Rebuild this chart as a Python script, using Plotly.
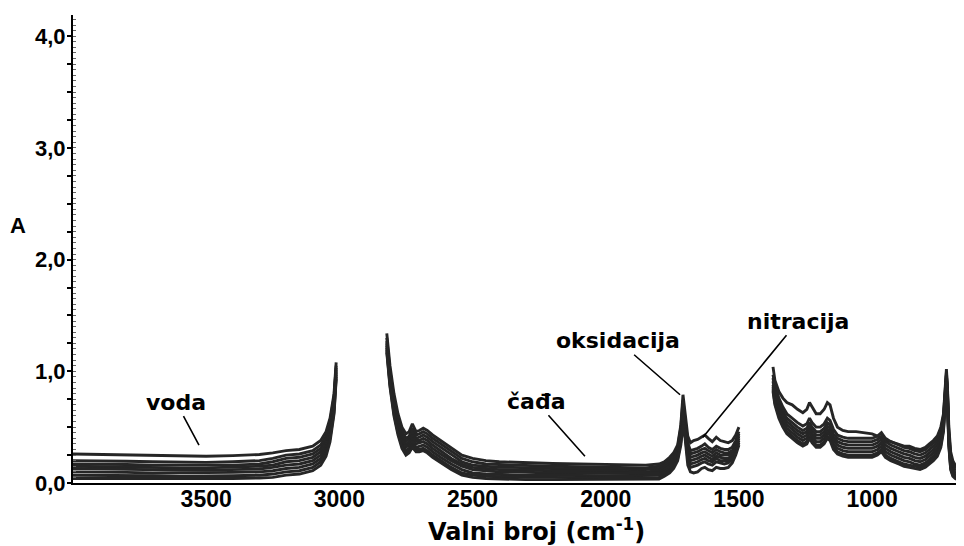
import plotly.graph_objects as go

# ---------------- data ----------------
wn_seg1 = [4000, 3900, 3800, 3700, 3600, 3500, 3400, 3300, 3250, 3200, 3150, 3100, 3070, 3050, 3035, 3020, 3012]
wn_seg2 = [2822, 2810, 2795, 2780, 2765, 2750, 2738, 2726, 2712, 2700,
           2685, 2670, 2650, 2620, 2580, 2540, 2500, 2450, 2400, 2350,
           2300, 2200, 2100, 2000, 1900, 1850, 1800, 1780, 1760, 1745,
           1730, 1718, 1710, 1702, 1692, 1682, 1670, 1655, 1640, 1628,
           1615, 1600, 1585, 1570, 1555, 1540, 1525, 1512, 1500]
wn_seg3 = [1372, 1365, 1350, 1335, 1320, 1300, 1280, 1260, 1245, 1235,
           1225, 1210, 1195, 1180, 1168, 1158, 1145, 1130, 1110, 1090,
           1060, 1030, 1000, 980, 965, 950, 930, 900, 880, 860,
           840, 820, 800, 785, 770, 755, 742, 732, 725, 721,
           717, 712, 705, 697, 688, 678, 668, 660, 650]

s1_seg1 = [0.26, 0.255, 0.25, 0.245, 0.24, 0.24, 0.245, 0.255, 0.27, 0.29, 0.30, 0.33, 0.38, 0.46, 0.58, 0.80, 1.08]
s2_seg1 = [0.20, 0.20, 0.195, 0.19, 0.185, 0.185, 0.19, 0.20, 0.22, 0.25, 0.26, 0.29, 0.34, 0.42, 0.55, 0.77, 1.05]
s3_seg1 = [0.17, 0.17, 0.165, 0.16, 0.16, 0.155, 0.16, 0.17, 0.19, 0.22, 0.23, 0.26, 0.31, 0.39, 0.52, 0.75, 1.03]
s4_seg1 = [0.15, 0.145, 0.14, 0.14, 0.135, 0.135, 0.14, 0.15, 0.16, 0.19, 0.20, 0.23, 0.28, 0.36, 0.49, 0.72, 1.01]
s5_seg1 = [0.13, 0.125, 0.12, 0.12, 0.115, 0.115, 0.12, 0.125, 0.14, 0.16, 0.17, 0.20, 0.25, 0.33, 0.46, 0.70, 0.99]
s6_seg1 = [0.10, 0.10, 0.095, 0.09, 0.09, 0.09, 0.095, 0.10, 0.11, 0.13, 0.14, 0.17, 0.22, 0.30, 0.43, 0.67, 0.97]
s7_seg1 = [0.07, 0.07, 0.065, 0.065, 0.06, 0.06, 0.065, 0.07, 0.08, 0.10, 0.11, 0.14, 0.19, 0.27, 0.40, 0.64, 0.95]
s8_seg1 = [0.04, 0.04, 0.04, 0.035, 0.035, 0.035, 0.04, 0.045, 0.05, 0.07, 0.08, 0.11, 0.16, 0.24, 0.37, 0.62, 0.93]

s1_seg2 = [1.34, 1.05, 0.80, 0.62, 0.50, 0.44, 0.46, 0.53, 0.46, 0.47, 0.49, 0.47, 0.43, 0.38, 0.31, 0.25, 0.22, 0.20, 0.19, 0.185,
           0.18, 0.175, 0.17, 0.165, 0.16, 0.16, 0.17, 0.19, 0.23, 0.27, 0.34, 0.52, 0.79, 0.62, 0.42, 0.36, 0.38, 0.39, 0.41, 0.43,
           0.40, 0.37, 0.41, 0.38, 0.37, 0.36, 0.38, 0.43, 0.50]
s2_seg2 = [1.30, 1.00, 0.76, 0.58, 0.46, 0.40, 0.42, 0.49, 0.43, 0.44, 0.46, 0.44, 0.40, 0.35, 0.28, 0.22, 0.19, 0.17, 0.165, 0.16,
           0.155, 0.15, 0.145, 0.14, 0.135, 0.135, 0.15, 0.17, 0.21, 0.25, 0.32, 0.50, 0.74, 0.58, 0.36, 0.29, 0.30, 0.31, 0.33, 0.35,
           0.32, 0.30, 0.33, 0.31, 0.30, 0.30, 0.32, 0.38, 0.46]
s3_seg2 = [1.27, 0.97, 0.73, 0.55, 0.43, 0.37, 0.40, 0.46, 0.40, 0.41, 0.43, 0.41, 0.37, 0.32, 0.25, 0.19, 0.16, 0.15, 0.14, 0.14,
           0.135, 0.13, 0.125, 0.12, 0.12, 0.12, 0.13, 0.16, 0.19, 0.23, 0.30, 0.47, 0.70, 0.55, 0.33, 0.26, 0.27, 0.28, 0.30, 0.31,
           0.29, 0.27, 0.30, 0.28, 0.27, 0.27, 0.29, 0.35, 0.44]
s4_seg2 = [1.25, 0.95, 0.70, 0.52, 0.40, 0.34, 0.37, 0.43, 0.38, 0.38, 0.40, 0.38, 0.34, 0.29, 0.22, 0.17, 0.14, 0.13, 0.12, 0.12,
           0.115, 0.11, 0.11, 0.105, 0.10, 0.10, 0.11, 0.14, 0.17, 0.21, 0.28, 0.44, 0.66, 0.52, 0.30, 0.23, 0.24, 0.25, 0.27, 0.28,
           0.26, 0.24, 0.27, 0.25, 0.25, 0.25, 0.27, 0.33, 0.42]
s5_seg2 = [1.23, 0.93, 0.68, 0.50, 0.38, 0.32, 0.34, 0.40, 0.35, 0.36, 0.37, 0.35, 0.31, 0.26, 0.20, 0.15, 0.12, 0.11, 0.10, 0.10,
           0.095, 0.09, 0.09, 0.085, 0.085, 0.085, 0.09, 0.12, 0.15, 0.19, 0.26, 0.42, 0.62, 0.49, 0.27, 0.20, 0.21, 0.22, 0.24, 0.25,
           0.23, 0.21, 0.24, 0.23, 0.22, 0.22, 0.25, 0.31, 0.40]
s6_seg2 = [1.21, 0.90, 0.65, 0.47, 0.35, 0.29, 0.31, 0.37, 0.32, 0.33, 0.34, 0.32, 0.28, 0.23, 0.17, 0.12, 0.09, 0.08, 0.075, 0.07,
           0.07, 0.07, 0.065, 0.065, 0.065, 0.065, 0.07, 0.10, 0.13, 0.17, 0.24, 0.40, 0.58, 0.46, 0.24, 0.17, 0.18, 0.19, 0.21, 0.22,
           0.20, 0.19, 0.22, 0.20, 0.20, 0.20, 0.23, 0.29, 0.38]
s7_seg2 = [1.19, 0.88, 0.62, 0.45, 0.33, 0.27, 0.29, 0.34, 0.30, 0.30, 0.31, 0.29, 0.25, 0.20, 0.14, 0.09, 0.07, 0.06, 0.055, 0.05,
           0.05, 0.05, 0.045, 0.045, 0.045, 0.045, 0.05, 0.08, 0.11, 0.15, 0.22, 0.37, 0.55, 0.43, 0.21, 0.14, 0.15, 0.16, 0.18, 0.19,
           0.17, 0.16, 0.19, 0.18, 0.17, 0.18, 0.21, 0.27, 0.36]
s8_seg2 = [1.17, 0.86, 0.60, 0.43, 0.31, 0.25, 0.27, 0.32, 0.28, 0.28, 0.29, 0.27, 0.23, 0.18, 0.12, 0.07, 0.05, 0.04, 0.035, 0.03,
           0.03, 0.03, 0.03, 0.03, 0.03, 0.03, 0.035, 0.06, 0.09, 0.13, 0.20, 0.34, 0.52, 0.40, 0.16, 0.10, 0.09, 0.10, 0.13, 0.14,
           0.12, 0.11, 0.14, 0.13, 0.13, 0.14, 0.18, 0.25, 0.34]

s1_seg3 = [1.04, 0.92, 0.82, 0.76, 0.72, 0.70, 0.66, 0.63, 0.66, 0.72, 0.68, 0.62, 0.62, 0.66, 0.72, 0.70, 0.58, 0.50, 0.47, 0.46,
           0.46, 0.45, 0.44, 0.42, 0.40, 0.38, 0.37, 0.35, 0.33, 0.33, 0.31, 0.30, 0.32, 0.35, 0.38, 0.42, 0.50, 0.62, 0.85, 1.02,
           0.85, 0.50, 0.28, 0.20, 0.16, 0.14, 0.17, 0.22, 0.30]
s2_seg3 = [0.97, 0.88, 0.76, 0.68, 0.62, 0.58, 0.54, 0.51, 0.53, 0.58, 0.54, 0.50, 0.50, 0.53, 0.58, 0.56, 0.48, 0.43, 0.41, 0.40,
           0.40, 0.40, 0.40, 0.42, 0.45, 0.40, 0.37, 0.34, 0.32, 0.31, 0.29, 0.28, 0.30, 0.33, 0.36, 0.40, 0.48, 0.60, 0.82, 0.99,
           0.82, 0.46, 0.24, 0.16, 0.13, 0.12, 0.15, 0.20, 0.27]
s3_seg3 = [0.94, 0.84, 0.72, 0.64, 0.58, 0.54, 0.50, 0.47, 0.49, 0.54, 0.50, 0.46, 0.46, 0.49, 0.54, 0.52, 0.44, 0.40, 0.38, 0.37,
           0.37, 0.37, 0.37, 0.39, 0.42, 0.37, 0.34, 0.31, 0.29, 0.28, 0.26, 0.25, 0.27, 0.30, 0.33, 0.37, 0.45, 0.57, 0.80, 0.97,
           0.80, 0.43, 0.21, 0.13, 0.10, 0.09, 0.12, 0.17, 0.24]
s4_seg3 = [0.91, 0.81, 0.69, 0.61, 0.55, 0.51, 0.47, 0.44, 0.46, 0.51, 0.47, 0.43, 0.43, 0.46, 0.51, 0.49, 0.41, 0.37, 0.35, 0.34,
           0.34, 0.34, 0.34, 0.36, 0.39, 0.34, 0.31, 0.28, 0.26, 0.25, 0.23, 0.22, 0.24, 0.27, 0.30, 0.34, 0.42, 0.55, 0.78, 0.96,
           0.78, 0.41, 0.19, 0.11, 0.08, 0.07, 0.10, 0.15, 0.22]
s5_seg3 = [0.88, 0.78, 0.66, 0.58, 0.52, 0.48, 0.44, 0.41, 0.43, 0.48, 0.44, 0.40, 0.40, 0.43, 0.48, 0.46, 0.38, 0.34, 0.32, 0.31,
           0.31, 0.31, 0.31, 0.33, 0.36, 0.31, 0.28, 0.25, 0.23, 0.22, 0.20, 0.19, 0.21, 0.24, 0.27, 0.31, 0.39, 0.52, 0.76, 0.94,
           0.76, 0.39, 0.17, 0.09, 0.06, 0.05, 0.08, 0.13, 0.20]
s6_seg3 = [0.86, 0.75, 0.63, 0.55, 0.49, 0.45, 0.41, 0.38, 0.40, 0.45, 0.41, 0.37, 0.37, 0.40, 0.45, 0.43, 0.35, 0.31, 0.29, 0.28,
           0.28, 0.28, 0.28, 0.30, 0.33, 0.28, 0.25, 0.22, 0.20, 0.19, 0.17, 0.16, 0.18, 0.21, 0.24, 0.28, 0.36, 0.50, 0.74, 0.93,
           0.74, 0.37, 0.15, 0.08, 0.05, 0.04, 0.07, 0.12, 0.19]
s7_seg3 = [0.84, 0.72, 0.60, 0.52, 0.46, 0.42, 0.38, 0.35, 0.37, 0.42, 0.38, 0.34, 0.34, 0.37, 0.42, 0.40, 0.32, 0.28, 0.26, 0.25,
           0.25, 0.25, 0.25, 0.27, 0.30, 0.25, 0.22, 0.19, 0.17, 0.16, 0.15, 0.14, 0.16, 0.19, 0.22, 0.26, 0.34, 0.48, 0.72, 0.91,
           0.72, 0.35, 0.13, 0.07, 0.05, 0.04, 0.06, 0.10, 0.17]
s8_seg3 = [0.82, 0.70, 0.58, 0.50, 0.44, 0.40, 0.36, 0.33, 0.35, 0.40, 0.36, 0.32, 0.32, 0.35, 0.40, 0.38, 0.30, 0.26, 0.24, 0.23,
           0.23, 0.23, 0.23, 0.25, 0.28, 0.23, 0.20, 0.17, 0.15, 0.14, 0.13, 0.12, 0.14, 0.17, 0.20, 0.24, 0.32, 0.46, 0.70, 0.89,
           0.70, 0.33, 0.12, 0.06, 0.04, 0.03, 0.05, 0.09, 0.16]

series = [
    (s1_seg1, s1_seg2, s1_seg3), (s2_seg1, s2_seg2, s2_seg3),
    (s3_seg1, s3_seg2, s3_seg3), (s4_seg1, s4_seg2, s4_seg3),
    (s5_seg1, s5_seg2, s5_seg3), (s6_seg1, s6_seg2, s6_seg3),
    (s7_seg1, s7_seg2, s7_seg3), (s8_seg1, s8_seg2, s8_seg3),
]

y_tickvals = [0, 1, 2, 3, 4]
y_ticktext = ["0,0", "1,0", "2,0", "3,0", "4,0"]
x_tickvals = [3500, 3000, 2500, 2000, 1500, 1000]
x_ticktext = ["3500", "3000", "2500", "2000", "1500", "1000"]

# labels: (text, wavenumber, absorbance, text offset x px, text offset y px)
labels = [
    ("voda", 3527, 0.34, -23, -43),
    ("čađa", 2078, 0.24, -49, -55),
    ("oksidacija", 1721, 0.79, -62, -54),
    ("nitracija", 1635, 0.41, 95, -116),
]

# ---------------- figure ----------------
# The page body keeps its default 8 px margin, so the figure is 8 px smaller
# than the window and every margin is 8 px less than the target position.
FONT = "Liberation Sans, Arial, Helvetica, sans-serif"
WIDE = "DejaVu Sans, Verdana, sans-serif"
LINE = "#262626"
Y_RANGE = [0, 4.19]

fig = go.Figure()
x_all = wn_seg1 + [None] + wn_seg2 + [None] + wn_seg3
for a, b, c in series:
    fig.add_trace(go.Scatter(
        x=x_all, y=a + [None] + b + [None] + c,
        mode="lines", line=dict(color=LINE, width=2.9),
        connectgaps=False, showlegend=False, hoverinfo="skip"))

# empty helper trace so the dotted inner tick axis is drawn
fig.add_trace(go.Scatter(x=[], y=[], yaxis="y2", showlegend=False, hoverinfo="skip"))

for text, xv, yv, ax, ay in labels:
    fig.add_annotation(
        x=xv, y=yv, xref="x", yref="y", text=text, showarrow=True,
        arrowhead=0, arrowwidth=1.6, arrowcolor="black", ax=ax, ay=ay,
        standoff=0, font=dict(family=WIDE, size=22, color="black", weight="bold"))

fig.add_annotation(x=-0.062, y=0.551, xref="paper", yref="paper", xanchor="center",
                   yanchor="middle", text="A", showarrow=False,
                   font=dict(family=FONT, size=22, color="black", weight="bold"))
fig.add_annotation(x=0.52, y=-0.1, xref="paper", yref="paper", yanchor="middle",
                   xanchor="center", text="Valni broj (cm<sup>-1</sup>)", showarrow=False,
                   font=dict(family=WIDE, size=24, color="black", weight="bold"))

fig.update_layout(
    width=956, height=538,
    margin=dict(l=65, r=0, t=7, b=63),
    paper_bgcolor="white", plot_bgcolor="white",
    font=dict(family=FONT, color="black"),
    xaxis=dict(range=[4000, 655], tickvals=x_tickvals, ticktext=x_ticktext,
               showgrid=False, zeroline=False, showline=True, linecolor="black", linewidth=2,
               ticks="", ticklabelstandoff=-6,
               tickfont=dict(family=FONT, size=23, color="black", weight="bold")),
    yaxis=dict(range=Y_RANGE, tickvals=y_tickvals, ticktext=y_ticktext,
               showgrid=False, zeroline=False, showline=True, linecolor="black", linewidth=2,
               ticks="outside", ticklen=4, tickwidth=2, tickcolor="black", ticklabelstandoff=-3,
               minor=dict(dtick=0.25, ticks="outside", ticklen=4, tickcolor="black", tickwidth=2),
               tickfont=dict(family=FONT, size=22, color="black", weight="bold")),
    yaxis2=dict(range=Y_RANGE, overlaying="y", side="left", anchor="x",
                showgrid=False, zeroline=False, showline=False, showticklabels=False,
                ticks="inside", dtick=0.05, tick0=0, ticklen=3, tickwidth=1, tickcolor="#666"),
)

fig.write_html("out.html")
